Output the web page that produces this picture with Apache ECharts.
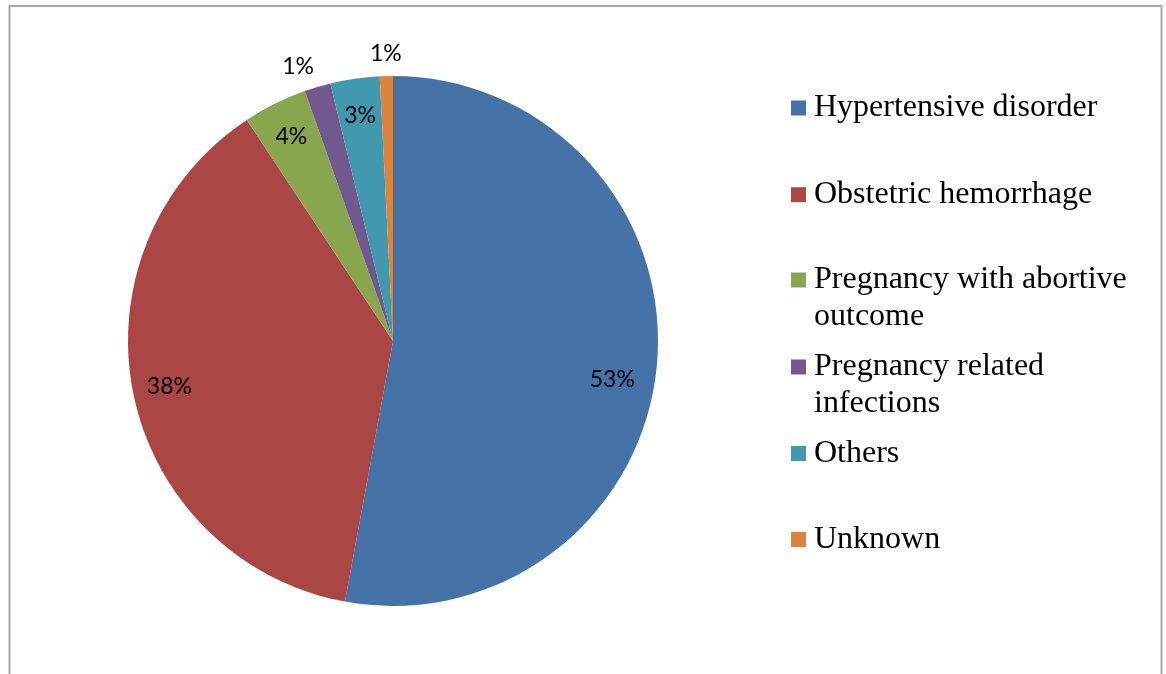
<!DOCTYPE html>
<html>
<head>
<meta charset="utf-8">
<script src="https://cdn.jsdelivr.net/npm/echarts@6/dist/echarts.min.js"></script>
<style>
html,body{margin:0;padding:0;background:#fff;}
#chart{width:1166px;height:674px;}
</style>
</head>
<body>
<div id="chart"></div>
<script>
// ---- data ----
const categories = [
  'Hypertensive disorder',
  'Obstetric hemorrhage',
  'Pregnancy with abortive outcome',
  'Pregnancy related infections',
  'Others',
  'Unknown'
];
const legendLabels = [
  'Hypertensive disorder',
  'Obstetric hemorrhage',
  'Pregnancy with abortive\noutcome',
  'Pregnancy related\ninfections',
  'Others',
  'Unknown'
];
const values = [52.9, 37.8, 3.9, 1.6, 3.0, 0.8];
const colors = ['#4572A7', '#AA4643', '#89A54E', '#71588F', '#4198AF', '#DB843D'];

// ---- chart ----
const outsideIdx = new Set([3, 5]);
const labelNudge = { 0: [-8, 18], 3: [-13, 1] };
const center = [393, 341];
const R = 265;

function labelFor(i, show) {
  const l = { show: show };
  if (labelNudge[i]) l.offset = labelNudge[i];
  return l;
}
const mainData = categories.map((c, i) => ({ name: c, value: values[i] }));
const insideData = categories.map((c, i) => ({
  name: c, value: values[i], label: labelFor(i, !outsideIdx.has(i))
}));
const outsideData = categories.map((c, i) => ({
  name: c, value: values[i], label: labelFor(i, outsideIdx.has(i))
}));

const labelText = {
  fontFamily: 'Lato', fontSize: 23, color: '#000'
};

const legendIconCenters = [108, 194.7, 280, 367, 453.5, 539.5];
const lineH = 37;
const padTop = 0;
const legends = categories.map((c, i) => {
  const wrapped = legendLabels[i].indexOf('\n') >= 0;
  const boxH = (wrapped ? 3 : 1) * lineH + padTop;
  return {
    data: [c],
    orient: 'vertical',
    left: 791,
    top: legendIconCenters[i] - boxH / 2,
    padding: 0,
    itemWidth: 15,
    itemHeight: 15,
    icon: 'rect',
    selectedMode: false,
    formatter: () => (wrapped ? '\n' : '') + legendLabels[i],
    textStyle: {
      fontFamily: 'Liberation Serif', fontSize: 32, lineHeight: lineH,
      color: '#000', padding: [padTop, 0, 0, 3]
    }
  };
});

const chart = echarts.init(document.getElementById('chart'));
chart.setOption({
  animation: false,
  color: colors,
  graphic: [{
    type: 'rect', silent: true,
    shape: { x: 9.5, y: 6, width: 1152, height: 720 },
    style: { fill: 'none', stroke: '#a8a8a8', lineWidth: 2 }
  }],
  legend: legends,
  series: [
    {
      type: 'pie', center: center, radius: R, startAngle: 90, clockwise: true,
      data: mainData, label: { show: false }, labelLine: { show: false },
      itemStyle: { borderWidth: 0 }, emphasis: { disabled: true }, silent: true
    },
    {
      type: 'pie', center: center, radius: [R * 0.70, R], startAngle: 90, clockwise: true,
      data: insideData, percentPrecision: 0,
      itemStyle: { color: 'transparent', borderWidth: 0 },
      label: Object.assign({ position: 'inside', formatter: '{d}%' }, labelText),
      labelLine: { show: false }, emphasis: { disabled: true }, silent: true
    },
    {
      type: 'pie', center: center, radius: [R, R * 1.145], startAngle: 90, clockwise: true,
      data: outsideData, percentPrecision: 0,
      itemStyle: { color: 'transparent', borderWidth: 0 },
      label: Object.assign({ position: 'inside', formatter: '{d}%' }, labelText),
      labelLine: { show: false }, emphasis: { disabled: true }, silent: true
    }
  ]
});
</script>
</body>
</html>
